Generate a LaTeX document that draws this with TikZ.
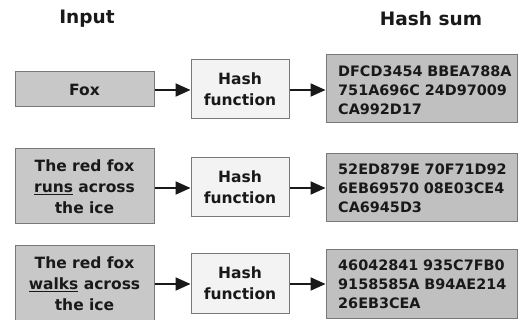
\documentclass[tikz,border=0pt]{standalone}
\usepackage{fontspec}
\setmainfont{DejaVu Sans}
\usetikzlibrary{arrows.meta}
\definecolor{inputgray}{RGB}{200,200,200}
\definecolor{sumgray}{RGB}{192,192,192}
\definecolor{fnfill}{RGB}{243,243,243}
\definecolor{edgegray}{RGB}{120,120,120}
\definecolor{txt}{RGB}{25,25,25}
\tikzset{
  inbox/.style={draw=edgegray, line width=1pt, fill=inputgray, minimum width=139pt, inner sep=0pt, align=center, text=txt,
    font=\fontsize{15.5}{21}\selectfont\bfseries},
  fnbox/.style={draw=edgegray, line width=1pt, fill=fnfill, minimum width=98pt, minimum height=59pt, inner sep=0pt, align=center, text=txt,
    font=\fontsize{15.5}{21}\selectfont\bfseries},
  sumframe/.style={draw=edgegray, line width=1pt, fill=sumgray, minimum height=68pt, minimum width=191pt, inner sep=0pt},
  sumtext/.style={anchor=west, inner sep=0pt, text width=178pt, align=left, text=txt,
    font=\fontsize{14.4}{19}\selectfont\bfseries},
  heading/.style={font=\fontsize{18.5}{22}\selectfont\bfseries, text=txt, inner sep=0pt},
  arr/.style={line width=2pt, draw=txt, -{Triangle[length=15pt,width=13pt]}}
}
\begin{document}
\begin{tikzpicture}[x=1pt,y=-1pt]
\useasboundingbox (0,0) rectangle (519,320);
\clip (0,0) rectangle (519,320);
\fill[white] (0,0) rectangle (519,320);
\node[heading] (hin) at (87,19) {Input};
\node[heading] (hsum) at (431,19) {Hash sum};
% row 1
\node[inbox, minimum height=35pt] (in1) at (84.5,89.5) {Fox};
\node[fnbox] (fn1) at (240,89.5) {Hash\\function};
\node[sumframe] (s1) at (421.5,89) {};
\node[sumtext] (t1) at (338,90) {DFCD3454 BBEA788A\\751A696C 24D97009\\CA992D17};
% row 2
\node[inbox, minimum height=75pt] (in2) at (84.5,186.5) {The red fox\\\underline{runs} across\\the ice};
\node[fnbox] (fn2) at (240,187.5) {Hash\\function};
\node[sumframe] (s2) at (421.5,187.5) {};
\node[sumtext] (t2) at (338,188.5) {52ED879E 70F71D92\\6EB69570 08E03CE4\\CA6945D3};
% row 3
\node[inbox, minimum height=75pt] (in3) at (84.5,283.5) {The red fox\\\underline{walks} across\\the ice};
\node[fnbox] (fn3) at (240,283.5) {Hash\\function};
\node[sumframe] (s3) at (421.5,284) {};
\node[sumtext] (t3) at (338,284.5) {46042841 935C7FB0\\9158585A B94AE214\\26EB3CEA};
% arrows
\draw[arr] (in1.east |- 0,90) -- (fn1.west |- 0,90);
\draw[arr] (fn1.east |- 0,90) -- (s1.west |- 0,90);
\draw[arr] (in2.east |- 0,188) -- (fn2.west |- 0,188);
\draw[arr] (fn2.east |- 0,188) -- (s2.west |- 0,188);
\draw[arr] (in3.east |- 0,284) -- (fn3.west |- 0,284);
\draw[arr] (fn3.east |- 0,284) -- (s3.west |- 0,284);
\end{tikzpicture}
\end{document}
